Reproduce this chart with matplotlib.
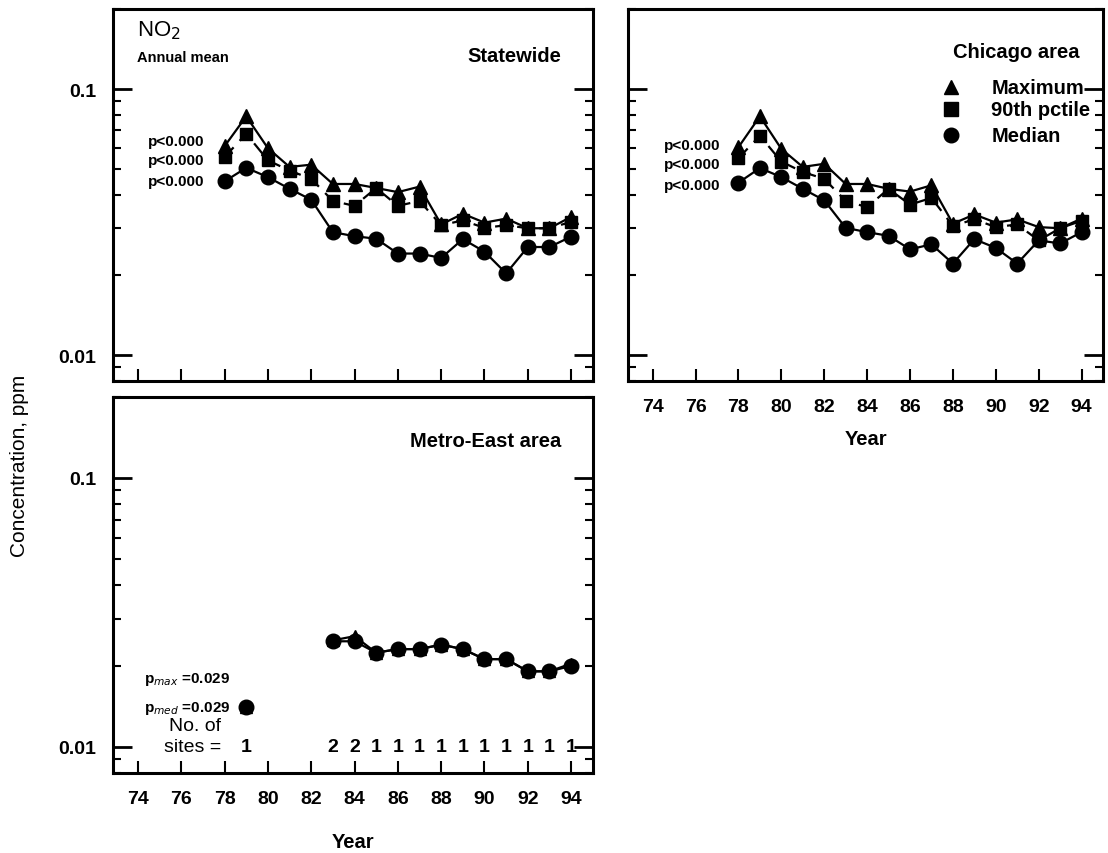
import numpy as np
import matplotlib

matplotlib.use("Agg")
import matplotlib.pyplot as plt
from matplotlib.ticker import FixedLocator, NullFormatter, LogLocator

plt.rcParams["font.family"] = ["Liberation Sans", "DejaVu Sans"]

years = list(range(78, 95))

# Statewide
state_max = [0.061, 0.079, 0.060, 0.051, 0.052, 0.044, 0.044, 0.0425, 0.041, 0.043,
             0.031, 0.034, 0.0315, 0.0326, 0.030, 0.030, 0.0331]
state_p90 = [0.0555, 0.068, 0.054, 0.0494, 0.046, 0.038, 0.0364, 0.0425, 0.0364, 0.038,
             0.0308, 0.0321, 0.0301, 0.0308, 0.030, 0.030, 0.0317]
state_med = [0.045, 0.0506, 0.0467, 0.0422, 0.0384, 0.029, 0.028, 0.0274, 0.0241, 0.0241,
             0.0232, 0.0273, 0.0245, 0.0203, 0.0255, 0.0255, 0.0279]

# Chicago area
chi_max = [0.0605, 0.079, 0.0596, 0.051, 0.0524, 0.044, 0.044, 0.0422, 0.0412, 0.0435,
           0.0312, 0.0338, 0.0315, 0.0324, 0.0303, 0.030, 0.0326]
chi_p90 = [0.055, 0.0668, 0.0534, 0.0488, 0.046, 0.038, 0.036, 0.0422, 0.0368, 0.039,
           0.0306, 0.0324, 0.0303, 0.031, 0.027, 0.030, 0.032]
chi_med = [0.0445, 0.0505, 0.0467, 0.0422, 0.0382, 0.0301, 0.029, 0.0281, 0.025, 0.0261,
           0.0221, 0.0273, 0.0253, 0.0221, 0.027, 0.0263, 0.029]

# Metro-East area (one site: 90th pctile = median; no data 78, 80-82)
nan = np.nan
me_max = [nan, 0.0141, nan, nan, nan, 0.0249, 0.0258, 0.0224, 0.0231, 0.0231,
          0.024, 0.0231, 0.0212, 0.0212, 0.0191, 0.0191, 0.0204]
me_med = [nan, 0.0141, nan, nan, nan, 0.0247, 0.0247, 0.0224, 0.0231, 0.0231,
          0.024, 0.0231, 0.0212, 0.0212, 0.0191, 0.0191, 0.0200]
me_sites_years = [79, 83, 84, 85, 86, 87, 88, 89, 90, 91, 92, 93, 94]
me_sites = [1, 2, 2, 1, 1, 1, 1, 1, 1, 1, 1, 1, 1]

xticks = list(range(74, 95, 2))

fig = plt.figure(figsize=(11.08, 8.54), dpi=100)
ax_s = fig.add_axes([0.102, 0.5527, 0.433, 0.4356])
ax_c = fig.add_axes([0.5668, 0.5527, 0.4287, 0.4356])
ax_m = fig.add_axes([0.102, 0.0937, 0.433, 0.4403])

ms = 10.5
tick_fs = 14


def style(ax, xlabels=True, ylabels=True):
    ax.set_yscale("log")
    ax.set_ylim(0.008, 0.2)
    ax.set_xlim(72.85, 95.0)
    for sp in ax.spines.values():
        sp.set_linewidth(2.2)
    ax.yaxis.set_major_locator(FixedLocator([0.01, 0.1]))
    ax.yaxis.set_minor_locator(LogLocator(base=10, subs=np.arange(2, 10) * 1.0))
    ax.yaxis.set_minor_formatter(NullFormatter())
    ax.set_xticks(xticks)
    ax.tick_params(axis="y", which="major", direction="in", length=14, width=2,
                   left=True, right=True, labelsize=tick_fs, pad=12,
                   labelleft=ylabels)
    ax.tick_params(axis="y", which="minor", direction="in", length=6, width=1.5,
                   left=True, right=True)
    ax.tick_params(axis="x", which="major", direction="in", length=9, width=1.5,
                   top=False, labelsize=tick_fs, pad=12, labelbottom=xlabels)
    if ylabels:
        ax.set_yticklabels(["0.01", "0.1"], fontweight="bold")
    if xlabels:
        ax.set_xticklabels([str(v) for v in xticks], fontweight="bold")


def draw(ax, ymax, ymed, yp90=None, tri_ms=ms):
    ax.plot(years, ymax, "-", color="black", lw=1.6, marker="^", ms=tri_ms)
    if yp90 is not None:
        ax.plot(years, yp90, "--", color="black", lw=1.6, marker="s", ms=ms - 1.5,
                dashes=(6, 4))
    ax.plot(years, ymed, "-", color="black", lw=1.6, marker="o", ms=ms)


draw(ax_s, state_max, state_med, state_p90)
draw(ax_c, chi_max, chi_med, chi_p90)
draw(ax_m, me_max, me_med, tri_ms=ms - 2)

style(ax_s, xlabels=False)
style(ax_c, ylabels=False)
style(ax_m)

# Statewide texts
ax_s.text(0.05, 0.945, "NO$_2$", transform=ax_s.transAxes, fontsize=16, va="center")
ax_s.text(0.05, 0.87, "Annual mean", transform=ax_s.transAxes, fontsize=10.5,
          va="center", fontweight="bold")
ax_s.text(0.935, 0.875, "Statewide", transform=ax_s.transAxes, fontsize=14.5,
          ha="right", va="center", fontweight="bold")
for yfrac in [0.645, 0.593, 0.538]:
    ax_s.text(0.19, yfrac, "p<0.000", transform=ax_s.transAxes, fontsize=11,
              ha="right", va="center", fontweight="bold")
    ax_c.text(0.195, yfrac - 0.01, "p<0.000", transform=ax_c.transAxes, fontsize=11,
              ha="right", va="center", fontweight="bold")

# Chicago texts and legend
ax_c.text(0.95, 0.885, "Chicago area", transform=ax_c.transAxes, fontsize=14.5,
          ha="right", va="center", fontweight="bold")
leg_y = [0.79, 0.73, 0.66]
leg_m = ["^", "s", "o"]
leg_t = ["Maximum", "90th pctile", "Median"]
for yy, mk, tx in zip(leg_y, leg_m, leg_t):
    ax_c.plot([0.68], [yy], mk, color="black", ms=ms, transform=ax_c.transAxes,
              clip_on=False)
    ax_c.text(0.765, yy, tx, transform=ax_c.transAxes, fontsize=14.5, va="center",
              fontweight="bold")

# Metro-East texts
ax_m.text(0.935, 0.885, "Metro-East area", transform=ax_m.transAxes, fontsize=14.5,
          ha="right", va="center", fontweight="bold")
ax_m.text(0.065, 0.25, "p$_{max}$ =0.029", transform=ax_m.transAxes, fontsize=11,
          va="center", fontweight="bold")
ax_m.text(0.065, 0.175, "p$_{med}$ =0.029", transform=ax_m.transAxes, fontsize=11,
          va="center", fontweight="bold")
ax_m.text(0.17, 0.125, "No. of", transform=ax_m.transAxes, fontsize=14,
          ha="center", va="center")
ax_m.text(0.165, 0.07, "sites =", transform=ax_m.transAxes, fontsize=14,
          ha="center", va="center")
for yr, n in zip(me_sites_years, me_sites):
    ax_m.text(yr, 0.07, str(n), transform=ax_m.get_xaxis_transform(), fontsize=14,
              ha="center", va="center", fontweight="bold")

ax_c.set_xlabel("Year", fontsize=14.5, fontweight="bold", labelpad=10)
ax_m.set_xlabel("Year", fontsize=14.5, fontweight="bold", labelpad=18)
fig.text(0.018, 0.455, "Concentration, ppm", rotation=90, fontsize=15,
         ha="center", va="center")

fig.savefig("out.png", dpi=100)
